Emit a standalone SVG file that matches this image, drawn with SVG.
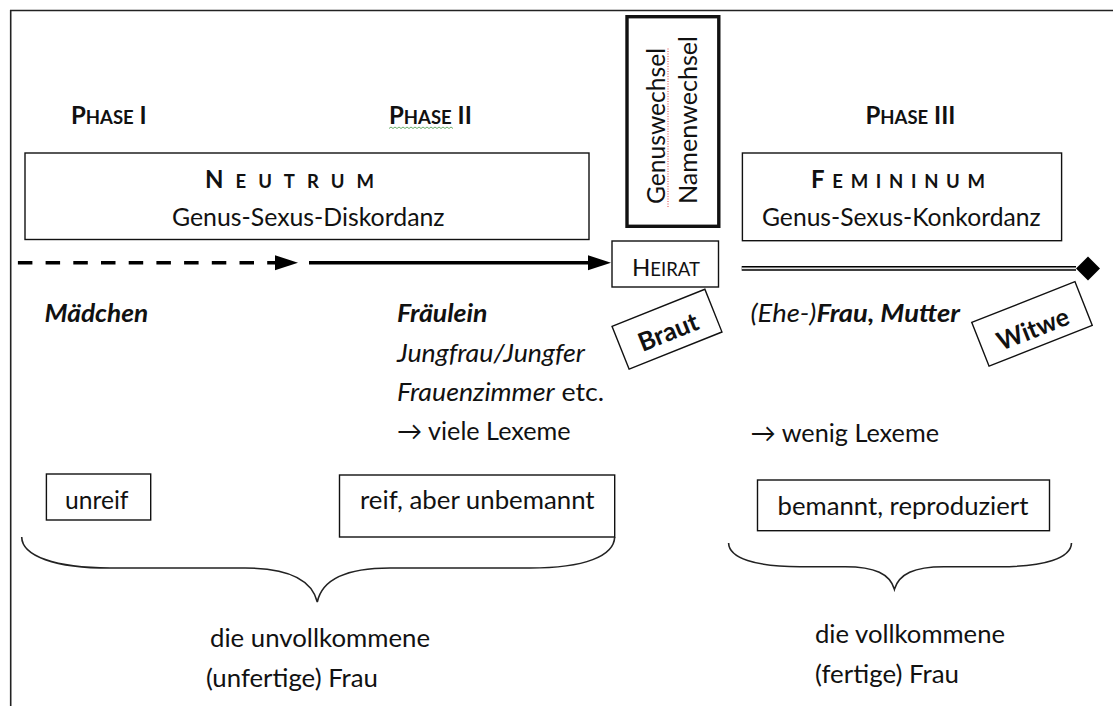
<svg xmlns="http://www.w3.org/2000/svg" width="1113" height="706" viewBox="0 0 1113 706">
<style>
 text{font-family:Lato,"Open Sans","DejaVu Sans",sans-serif;font-size:25.6px;fill:#111}
 .b{font-weight:700}
 .i{font-style:italic}
 .h{font-size:24px}
 .sc{font-size:18.5px}
 .box{fill:#fff;stroke:#111;stroke-width:1.4}
 .thick{fill:#fff;stroke:#111;stroke-width:3.4}
 .brace{fill:none;stroke:#222;stroke-width:1.6}
 .line{fill:none;stroke:#000;stroke-width:3.4}
</style>
<defs>
 <marker id="arrow" markerUnits="userSpaceOnUse" markerWidth="24" markerHeight="16" refX="0" refY="7.5" orient="auto"><path d="M0,0 L23,7.5 L0,15 z" fill="#000"/></marker>
 <marker id="diamond" markerUnits="userSpaceOnUse" markerWidth="25" markerHeight="25" refX="0" refY="12" orient="auto"><path d="M0,12 L12,0 L24,12 L12,24 z" fill="#000"/></marker>
</defs>
<rect width="1113" height="706" fill="#fff"/>
<path d="M10.7,706 V10.5 H1113" fill="none" stroke="#222" stroke-width="1.6"/>

<g id="connectors">
 <line class="line" x1="17.9" y1="262.7" x2="275" y2="262.7" stroke-dasharray="14.5 13.2" marker-end="url(#arrow)"/>
 <line class="line" x1="309" y1="262.7" x2="588" y2="262.7" marker-end="url(#arrow)"/>
 <path d="M741.7,268.4 H1076" stroke="#000" stroke-width="4.6" marker-end="url(#diamond)"/>
 <path d="M741.7,268.4 H1076" stroke="#e6e6e6" stroke-width="1.8"/>
</g>

<g id="phase1"><text x="71" y="124" class="b h">P<tspan class="sc">HASE</tspan> I</text></g>
<g id="phase2"><text x="389" y="124" class="b h">P<tspan class="sc">HASE</tspan> II</text>
 <path d="M389 128.5 l2 -1.5 l2 1.5 l2 -1.5 l2 1.5 l2 -1.5 l2 1.5 l2 -1.5 l2 1.5 l2 -1.5 l2 1.5 l2 -1.5 l2 1.5 l2 -1.5 l2 1.5 l2 -1.5 l2 1.5 l2 -1.5 l2 1.5 l2 -1.5 l2 1.5 l2 -1.5 l2 1.5 l2 -1.5 l2 1.5 l2 -1.5 l2 1.5 l2 -1.5 l2 1.5 l2 -1.5 l2 1.5 l2 -1.5 l2 1.5" fill="none" stroke="#5aa55a" stroke-width="0.9"/></g>
<g id="phase3"><text x="865.5" y="124" class="b h">P<tspan class="sc">HASE</tspan> III</text></g>

<g id="neutrum">
 <rect class="box" x="25" y="153" width="564" height="86.5"/>
 <text x="205" y="188" class="b h" letter-spacing="12">N<tspan class="sc">EUTRUM</tspan></text>
 <text x="172" y="226" textLength="272.6" lengthAdjust="spacingAndGlyphs">Genus-Sexus-Diskordanz</text>
</g>

<g id="wechsel">
 <rect class="thick" x="627" y="16.7" width="91.8" height="209.6"/>
 <text transform="translate(665,204) rotate(-90)" textLength="156" lengthAdjust="spacingAndGlyphs">Genuswechsel</text>
 <path d="M668,207 V48" fill="none" stroke="#e04040" stroke-width="1" stroke-dasharray="1 1.5"/>
 <text transform="translate(697,204) rotate(-90)" textLength="168" lengthAdjust="spacingAndGlyphs">Namenwechsel</text>
</g>

<g id="feminimum">
 <rect class="box" x="742.4" y="153" width="319.2" height="87.7"/>
 <text x="811" y="188" class="b h" letter-spacing="7.7">F<tspan class="sc">EMININUM</tspan></text>
 <text x="762" y="226" textLength="278.6" lengthAdjust="spacingAndGlyphs">Genus-Sexus-Konkordanz</text>
</g>

<g id="heirat">
 <rect class="box" x="612" y="241" width="106.5" height="46"/>
 <text x="632" y="276" class="h" textLength="68" lengthAdjust="spacingAndGlyphs">H<tspan class="sc">EIRAT</tspan></text>
</g>

<g id="braut" transform="translate(667,329.2) rotate(-21.8)">
 <rect class="box" x="-50" y="-23" width="100" height="46"/>
 <text x="-31.3" y="12" class="b" textLength="62.6" lengthAdjust="spacingAndGlyphs">Braut</text>
</g>

<g id="witwe" transform="translate(1032,323.9) rotate(-21.6)">
 <rect class="box" x="-55.5" y="-23.5" width="111" height="47"/>
 <text x="-38.5" y="14" class="b" textLength="75" lengthAdjust="spacingAndGlyphs">Witwe</text>
</g>

<g id="phase1-terms">
 <text x="44.6" y="322" class="b i" textLength="103.6" lengthAdjust="spacingAndGlyphs">Mädchen</text>
</g>

<g id="phase2-terms">
 <text x="397" y="322" class="b i" textLength="90.5" lengthAdjust="spacingAndGlyphs">Fräulein</text>
 <text x="397" y="361.7" class="i" textLength="188" lengthAdjust="spacingAndGlyphs">Jungfrau/Jungfer</text>
 <text x="397" y="400.5" textLength="207" lengthAdjust="spacingAndGlyphs"><tspan class="i">Frauenzimmer</tspan> etc.</text>
 <text x="397" y="440" textLength="173.6" lengthAdjust="spacingAndGlyphs">→ viele Lexeme</text>
</g>

<g id="phase3-terms">
 <text x="750.5" y="322" textLength="209.5" lengthAdjust="spacingAndGlyphs"><tspan class="i">(Ehe-)</tspan><tspan class="b i">Frau, Mutter</tspan></text>
 <text x="750.5" y="442" textLength="188.5" lengthAdjust="spacingAndGlyphs">→ wenig Lexeme</text>
</g>

<g id="unreif">
 <rect class="box" x="46.4" y="474" width="104.3" height="46"/>
 <text x="65" y="509" textLength="63.5" lengthAdjust="spacingAndGlyphs">unreif</text>
</g>

<g id="reif">
 <rect class="box" x="339.5" y="475" width="275.2" height="62"/>
 <text x="360" y="509" textLength="234.6" lengthAdjust="spacingAndGlyphs">reif, aber unbemannt</text>
</g>

<g id="bemannt">
 <rect class="box" x="757.5" y="480" width="292" height="50.7"/>
 <text x="777.6" y="515" textLength="250.8" lengthAdjust="spacingAndGlyphs">bemannt, reproduziert</text>
</g>

<g id="brace-left">
 <path class="brace" d="M21.7,537 C22,556 55,568 110,568 L245,568 C290,568 312,580 317.3,602 C322,580 345,568 390,568 L530,568 C585,568 614,556 614.7,537"/>
 <text x="210" y="647" textLength="220" lengthAdjust="spacingAndGlyphs">die unvollkommene</text>
 <text x="206" y="687" textLength="172" lengthAdjust="spacingAndGlyphs">(unfertige) Frau</text>
</g>

<g id="brace-right">
 <path class="brace" d="M728.6,543 C729,558 755,566.7 800,566.7 L845,566.7 C875,566.7 890,574 894.4,589.3 C899,574 914,566.7 944,566.7 L1000,566.7 C1045,566.7 1071,558 1071.5,543"/>
 <text x="815" y="643" textLength="190" lengthAdjust="spacingAndGlyphs">die vollkommene</text>
 <text x="815" y="683" textLength="144" lengthAdjust="spacingAndGlyphs">(fertige) Frau</text>
</g>
</svg>
